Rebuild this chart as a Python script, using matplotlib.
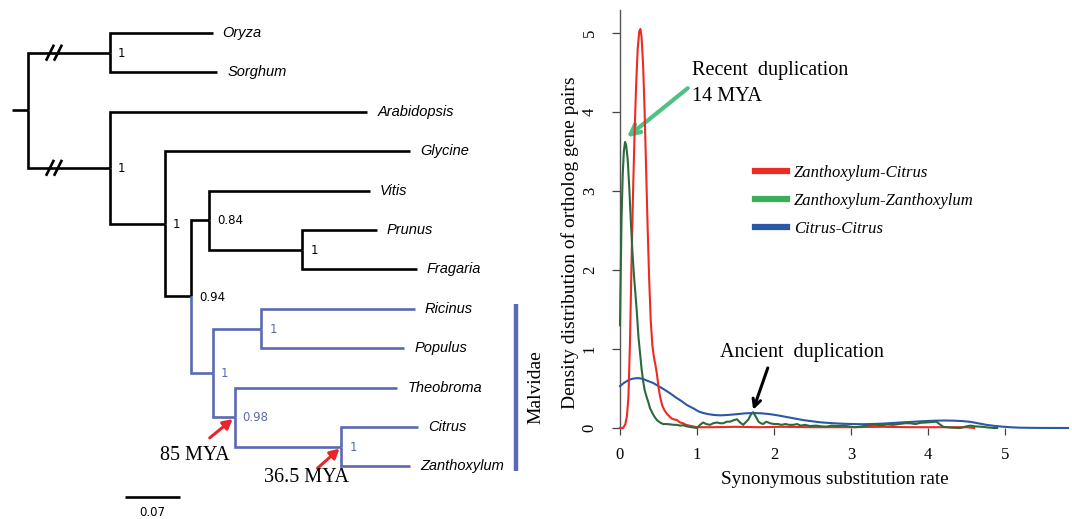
import matplotlib
matplotlib.use('Agg')
import matplotlib.pyplot as plt
from matplotlib.lines import Line2D

SERIF = 'Liberation Serif'
SANS = 'Liberation Sans'

# ---------------- tree data ----------------
tip_names = ['Oryza', 'Sorghum', 'Arabidopsis', 'Glycine', 'Vitis', 'Prunus',
             'Fragaria', 'Ricinus', 'Populus', 'Theobroma', 'Citrus', 'Zanthoxylum']
edge_parent = ['root', 'mono', 'mono', 'root', 'eudi', 'eudi', 'A', 'A', 'B', 'C', 'C',
               'PF', 'PF', 'B', 'Malv', 'RP', 'RP', 'Malv', 'TCZ', 'TCZ', 'CZ', 'CZ']
edge_child = ['mono', 'Oryza', 'Sorghum', 'eudi', 'Arabidopsis', 'A', 'Glycine', 'B', 'C',
              'Vitis', 'PF', 'Prunus', 'Fragaria', 'Malv', 'RP', 'Ricinus', 'Populus',
              'TCZ', 'Theobroma', 'CZ', 'Citrus', 'Zanthoxylum']
edge_length = [0.104, 0.131, 0.137, 0.104, 0.328, 0.070, 0.312, 0.034, 0.023,
               0.204, 0.118, 0.095, 0.146, 0.027, 0.062, 0.195, 0.182,
               0.028, 0.207, 0.136, 0.097, 0.087]
support_nodes = ['mono', 'eudi', 'A', 'C', 'PF', 'B', 'Malv', 'RP', 'TCZ', 'CZ']
support_values = ['1', '1', '1', '0.84', '1', '0.94', '1', '1', '0.98', '1']
highlight_clade = 'Malv'
clade_label = 'Malvidae'
broken_edges = ['mono', 'eudi']
scale_length = 0.07
ages = [('TCZ', '85 MYA'), ('CZ', '36.5 MYA')]

# ---------------- density data ----------------
zc_x = [0.00, 0.04, 0.07, 0.09, 0.11, 0.13, 0.15, 0.17, 0.19, 0.21, 0.23, 0.25, 0.265,
        0.28, 0.30, 0.32, 0.34, 0.36, 0.38, 0.40, 0.42, 0.44, 0.46, 0.48, 0.50, 0.52,
        0.55, 0.58, 0.61, 0.64, 0.67, 0.70, 0.74, 0.78, 0.82, 0.86, 0.90, 0.95, 1.00,
        1.2, 1.5, 1.8, 2.1, 2.5, 3.0, 3.4, 3.8, 4.2, 4.5, 4.6]
zc_y = [0.00, 0.00, 0.05, 0.15, 0.40, 1.10, 2.10, 3.00, 3.75, 4.35, 4.80, 5.02, 5.05,
        4.95, 4.60, 4.00, 3.25, 2.50, 1.85, 1.35, 1.05, 0.90, 0.80, 0.68, 0.52, 0.40,
        0.28, 0.22, 0.18, 0.15, 0.12, 0.11, 0.10, 0.07, 0.06, 0.04, 0.03, 0.02, 0.01,
        0.01, 0.015, 0.01, 0.015, 0.01, 0.01, 0.015, 0.01, 0.01, 0.01, 0.0]

zz_x = [0.00, 0.01, 0.02, 0.035, 0.05, 0.065, 0.08, 0.10, 0.12, 0.14, 0.16, 0.18, 0.20,
        0.22, 0.24, 0.26, 0.28, 0.30, 0.32, 0.35, 0.37, 0.39, 0.42, 0.45, 0.48, 0.52,
        0.56, 0.61, 0.66, 0.70, 0.74, 0.78, 0.82, 0.87, 0.93, 1.00, 1.04, 1.08, 1.12,
        1.17, 1.21, 1.26, 1.30, 1.34, 1.39, 1.43, 1.48, 1.52, 1.56, 1.60, 1.64, 1.67,
        1.70, 1.73, 1.76, 1.80, 1.83, 1.86, 1.90, 1.95, 2.00, 2.05, 2.10, 2.15, 2.20,
        2.25, 2.30, 2.35, 2.40, 2.47, 2.55, 2.62, 2.68, 2.75, 2.82, 2.90, 2.97, 3.05,
        3.12, 3.20, 3.27, 3.33, 3.40, 3.47, 3.55, 3.62, 3.70, 3.77, 3.84, 3.90, 3.98,
        4.05, 4.11, 4.15, 4.20, 4.30, 4.42, 4.50, 4.55, 4.62, 4.68, 4.75, 4.85, 4.90]
zz_y = [1.30, 2.00, 2.65, 3.20, 3.50, 3.62, 3.58, 3.40, 3.05, 2.63, 2.25, 1.95, 1.70,
        1.45, 1.15, 0.95, 0.75, 0.60, 0.48, 0.38, 0.32, 0.25, 0.19, 0.14, 0.10, 0.07,
        0.05, 0.05, 0.045, 0.04, 0.04, 0.03, 0.035, 0.02, 0.01, 0.00, 0.04, 0.07, 0.05,
        0.04, 0.06, 0.07, 0.06, 0.06, 0.08, 0.08, 0.10, 0.11, 0.07, 0.04, 0.08, 0.11,
        0.17, 0.20, 0.15, 0.08, 0.06, 0.05, 0.08, 0.06, 0.05, 0.05, 0.04, 0.05, 0.04,
        0.04, 0.05, 0.03, 0.04, 0.025, 0.03, 0.02, 0.017, 0.03, 0.025, 0.03, 0.02, 0.01,
        0.017, 0.03, 0.04, 0.04, 0.035, 0.045, 0.04, 0.05, 0.06, 0.06, 0.05, 0.065, 0.07,
        0.075, 0.08, 0.05, 0.015, 0.005, 0.00, 0.02, 0.03, 0.02, 0.017, 0.01, 0.00, 0.00]

cc_x = [0.00, 0.05, 0.10, 0.15, 0.20, 0.25, 0.30, 0.35, 0.43, 0.50, 0.57, 0.65, 0.72,
        0.80, 0.87, 0.95, 1.02, 1.08, 1.15, 1.22, 1.30, 1.40, 1.52, 1.62, 1.73, 1.85,
        1.95, 2.05, 2.16, 2.27, 2.38, 2.50, 2.60, 2.70, 2.81, 2.92, 3.03, 3.15, 3.25,
        3.36, 3.46, 3.57, 3.68, 3.80, 3.90, 4.00, 4.11, 4.22, 4.33, 4.44, 4.55, 4.65,
        4.76, 4.87, 4.98, 5.10, 5.20, 5.41, 5.82]
cc_y = [0.53, 0.57, 0.60, 0.62, 0.63, 0.63, 0.62, 0.60, 0.57, 0.53, 0.49, 0.44, 0.39,
        0.34, 0.29, 0.25, 0.21, 0.19, 0.175, 0.165, 0.16, 0.165, 0.175, 0.185, 0.19, 0.185,
        0.175, 0.16, 0.14, 0.12, 0.10, 0.085, 0.072, 0.065, 0.058, 0.053, 0.05, 0.048, 0.05,
        0.053, 0.058, 0.065, 0.072, 0.078, 0.084, 0.089, 0.093, 0.095, 0.093, 0.088, 0.078,
        0.06, 0.04, 0.026, 0.016, 0.008, 0.004, 0.001, 0.0]

series_labels = ['Zanthoxylum-Citrus', 'Zanthoxylum-Zanthoxylum', 'Citrus-Citrus']
x_ticks = [0, 1, 2, 3, 4, 5]
y_ticks = [0, 1, 2, 3, 4, 5]
x_label = 'Synonymous substitution rate'
y_label = 'Density distribution of ortholog gene pairs'

# ---------------- styles ----------------
BLACK = 'black'
TREE_BLUE = '#5a69b4'
RED = '#ee2a24'
DKGREEN = '#2c6a3c'
LGGREEN = '#3aae58'
BLUE = '#2a58a6'
ARROW_RED = '#e8262a'
ARROW_GREEN = '#50c086'

W, H = 1072, 519
fig = plt.figure(figsize=(W / 100, H / 100), dpi=100)

# ---------------- tree panel ----------------
PX_PER_UNIT = 785.7
PX_PER_TIP = 39.4
ROOT_PX, TOP_PX = 28, 33
tax = fig.add_axes([0, 0, 560 / W, 1])
tax.set_xlim(-ROOT_PX / PX_PER_UNIT, (560 - ROOT_PX) / PX_PER_UNIT)
tax.set_ylim((H - TOP_PX) / PX_PER_TIP, -TOP_PX / PX_PER_TIP)
tax.axis('off')

length = dict(zip(edge_child, edge_length))
children = {}
for p, c in zip(edge_parent, edge_child):
    children.setdefault(p, []).append(c)
X, Y = {}, {}

def layout(node, x0):
    X[node] = x0
    if node in children:
        for c in children[node]:
            layout(c, x0 + length[c])
        Y[node] = sum(Y[c] for c in children[node]) / len(children[node])
    else:
        Y[node] = tip_names.index(node)

layout('root', 0.0)

blue_set = set()
def collect(node):
    blue_set.add(node)
    for c in children.get(node, []):
        collect(c)
collect(highlight_clade)

LW = 1.9
for p, c in zip(edge_parent, edge_child):
    col = TREE_BLUE if c in blue_set else BLACK
    tax.plot([X[p], X[p], X[c]], [Y[p], Y[c], Y[c]], color=col, lw=LW,
             solid_joinstyle='miter', solid_capstyle='butt')
# root stub
tax.plot([X['root'] - 16 / PX_PER_UNIT, X['root']], [Y['root'], Y['root']],
         color=BLACK, lw=LW, solid_capstyle='butt')
# break marks
for c in broken_edges:
    for off in (22, 30):
        xc = X['root'] + off / PX_PER_UNIT
        tax.plot([xc - 4 / PX_PER_UNIT, xc + 4 / PX_PER_UNIT],
                 [Y[c] + 8 / PX_PER_TIP, Y[c] - 8 / PX_PER_TIP],
                 color=BLACK, lw=LW, solid_capstyle='butt')

for t in tip_names:
    tax.text(X[t] + 10 / PX_PER_UNIT, Y[t], t, fontstyle='italic', family=SANS,
             fontsize=10.5, ha='left', va='center')
for n, v in zip(support_nodes, support_values):
    col = TREE_BLUE if n in blue_set else BLACK
    tax.text(X[n] + 8 / PX_PER_UNIT, Y[n] + 0.02, v, family='DejaVu Sans', fontsize=8.5,
             ha='left', va='center', color=col)

# clade bar
clade_tips = [t for t in tip_names if t in blue_set]
bar_x = max(X[t] for t in clade_tips) + 98 / PX_PER_UNIT
y0 = min(Y[t] for t in clade_tips) - 5 / PX_PER_TIP
y1 = max(Y[t] for t in clade_tips) + 5 / PX_PER_TIP
tax.plot([bar_x, bar_x], [y0, y1], color=TREE_BLUE, lw=3.2, solid_capstyle='butt')
tax.text(bar_x + 20 / PX_PER_UNIT, (y0 + y1) / 2, clade_label, rotation=90,
         family=SERIF, fontsize=14, ha='center', va='center')

# age arrows
age_offsets = {'TCZ': ((-16.5, -13.5), (-28.5, -27.5)), 'CZ': ((-15.8, -14.0), (-25.0, -22.5))}
for node, lab in ages:
    arr_off, txt_off = age_offsets[node]
    tax.annotate('', xy=(X[node] - 2 / PX_PER_UNIT, Y[node] + 2 / PX_PER_TIP),
                 xytext=arr_off, textcoords='offset points',
                 arrowprops=dict(arrowstyle='-|>,head_length=0.55,head_width=0.3',
                                 color=ARROW_RED, lw=2.2, shrinkA=0, shrinkB=0))
    tax.annotate(lab, xy=(X[node], Y[node]), xytext=txt_off, textcoords='offset points',
                 ha='center', va='center', family=SERIF, fontsize=14.5)

# scale bar
sb_x0 = (125 - ROOT_PX) / PX_PER_UNIT
sb_y = (497 - TOP_PX) / PX_PER_TIP
tax.plot([sb_x0, sb_x0 + scale_length], [sb_y, sb_y], color=BLACK, lw=LW,
         solid_capstyle='butt')
tax.text(sb_x0 + scale_length / 2, (512 - TOP_PX) / PX_PER_TIP, f'{scale_length:.2f}',
         family='DejaVu Sans', fontsize=8.5, ha='center', va='center')

# ---------------- density panel ----------------
ax = fig.add_axes([620 / W, (H - 428) / H, (1068 - 620) / W, (428 - 10) / H])
ax.set_xlim(0, 5.82)
ax.set_ylim(0, 5.29)
ax.plot(cc_x, cc_y, color=BLUE, lw=1.5, clip_on=False, zorder=3)
ax.plot(zc_x, zc_y, color=RED, lw=1.5, clip_on=False, zorder=4)
ax.plot(zz_x, zz_y, color=DKGREEN, lw=1.5, clip_on=False, zorder=5)

for s in ['top', 'right', 'bottom']:
    ax.spines[s].set_visible(False)
ax.spines['left'].set_color('#555555')
ax.spines['left'].set_linewidth(1.0)
ax.set_xticks(x_ticks)
ax.set_yticks(y_ticks)
ax.set_xticklabels([str(v) for v in x_ticks], family=SERIF, fontsize=12)
ax.set_yticklabels([str(v) for v in y_ticks], family=SERIF, fontsize=12,
                   rotation=90, va='center')
ax.tick_params(axis='x', direction='out', length=5, width=0.9, color='#444444', pad=9)
ax.tick_params(axis='y', direction='out', length=6, width=0.9, color='#444444', pad=10)
ax.patch.set_alpha(0)

fig.text(570 / W, 1 - 243 / H, y_label, rotation=90, ha='center', va='center',
         family=SERIF, fontsize=14)
fig.text(835 / W, 1 - 479 / H, x_label, ha='center', va='center',
         family=SERIF, fontsize=13.8)

handles = [Line2D([], [], color=RED, lw=4.5),
           Line2D([], [], color=LGGREEN, lw=4.5),
           Line2D([], [], color=BLUE, lw=4.5)]
ax.legend(handles, series_labels, loc='upper left',
          bbox_to_anchor=(755 / W, 1 - 165 / H), bbox_transform=fig.transFigure,
          frameon=False, borderpad=0, borderaxespad=0, handlelength=1.92,
          handletextpad=0.4, labelspacing=0.72,
          prop=dict(family=SERIF, style='italic', size=12))

# annotations
ax.annotate('', xy=(0.09, 3.68), xytext=(0.88, 4.30),
            arrowprops=dict(arrowstyle='->,head_length=0.7,head_width=0.35',
                            color=ARROW_GREEN, lw=3.0, shrinkA=0, shrinkB=0))
ax.text(0.935, 4.53, 'Recent  duplication', family=SERIF, fontsize=14.5,
        ha='left', va='center')
ax.text(0.935, 4.19, '14 MYA', family=SERIF, fontsize=14.5, ha='left', va='center')
ax.annotate('', xy=(1.73, 0.23), xytext=(1.92, 0.76),
            arrowprops=dict(arrowstyle='->,head_length=0.55,head_width=0.28',
                            color='black', lw=2.2, shrinkA=0, shrinkB=0))
ax.text(2.36, 0.95, 'Ancient  duplication', family=SERIF, fontsize=14.5,
        ha='center', va='center')

fig.savefig('out.png', dpi=100)
